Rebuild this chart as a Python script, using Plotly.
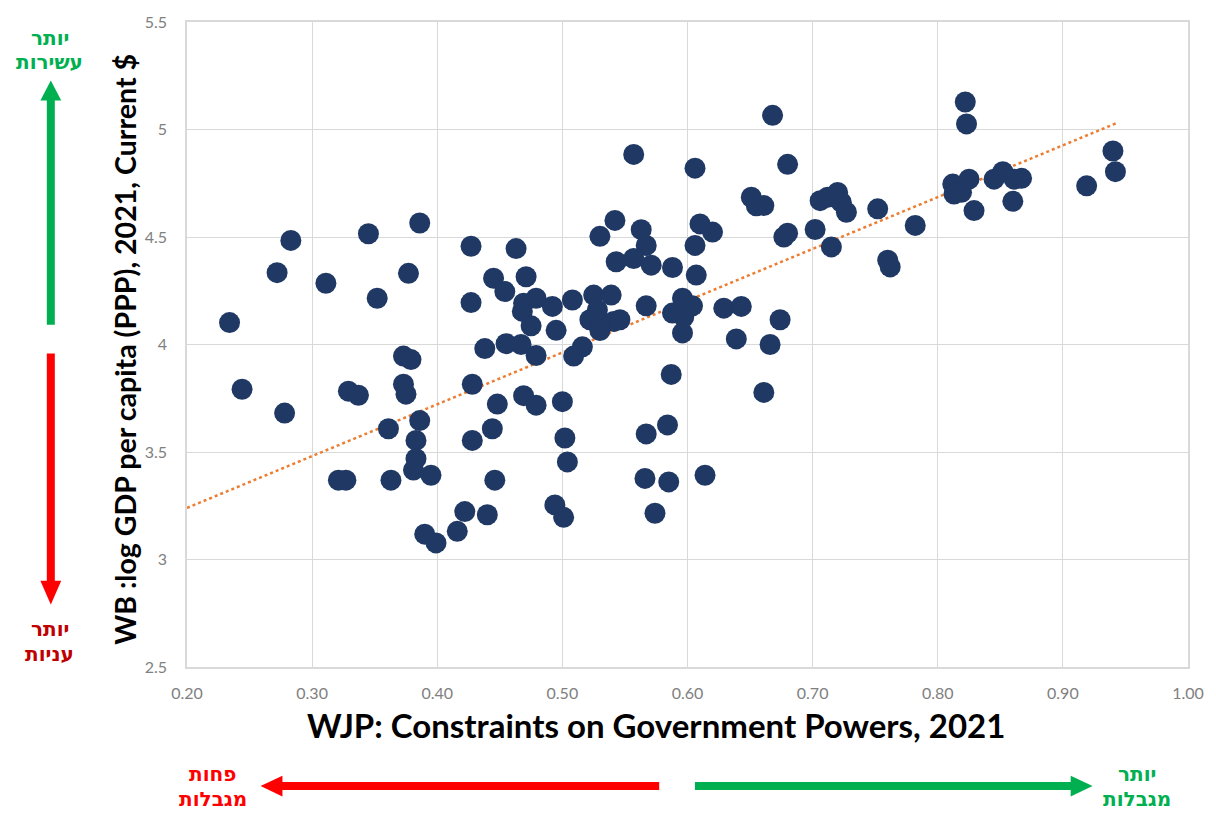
import plotly.graph_objects as go

# WJP: Constraints on Government Powers, 2021 (x) vs WB log GDP per capita PPP (y)
wjp_constraints = [
    0.283, 0.272, 0.234, 0.311, 0.345, 0.386, 0.377, 0.352, 0.427, 0.463,
    0.427, 0.244, 0.278, 0.329, 0.337, 0.373, 0.379, 0.373, 0.375, 0.428,
    0.448, 0.438, 0.455, 0.469, 0.386, 0.361, 0.383, 0.383, 0.381, 0.395,
    0.444, 0.428, 0.446, 0.321, 0.327, 0.363, 0.422, 0.440, 0.416, 0.390,
    0.399,
    0.445, 0.454, 0.471, 0.469, 0.479, 0.468, 0.475, 0.492, 0.495, 0.508,
    0.525, 0.539, 0.522, 0.530, 0.541, 0.546, 0.528, 0.530, 0.467, 0.479,
    0.509, 0.516, 0.479, 0.500, 0.502, 0.504, 0.494, 0.501, 0.566, 0.585,
    0.614, 0.574, 0.567, 0.584, 0.587, 0.557, 0.606, 0.542, 0.530, 0.563,
    0.567, 0.543, 0.557, 0.571, 0.588, 0.610, 0.620, 0.606, 0.607, 0.567,
    0.596, 0.604, 0.588, 0.596, 0.597, 0.629, 0.639, 0.643,
    0.668, 0.822, 0.823, 0.680, 0.651, 0.655, 0.661, 0.706, 0.712, 0.720,
    0.723, 0.727, 0.752, 0.782, 0.702, 0.715, 0.760, 0.762, 0.677, 0.680,
    0.674, 0.666, 0.661, 0.812, 0.825, 0.819, 0.813, 0.829, 0.845, 0.852,
    0.861, 0.867, 0.860, 0.940, 0.942, 0.919,
]
log_gdp_ppp = [
    4.484, 4.334, 4.102, 4.285, 4.515, 4.565, 4.331, 4.215, 4.457, 4.446,
    4.195, 3.792, 3.681, 3.783, 3.764, 3.946, 3.930, 3.815, 3.769, 3.815,
    3.723, 3.981, 4.004, 3.762, 3.646, 3.608, 3.554, 3.469, 3.416, 3.392,
    3.608, 3.554, 3.369, 3.369, 3.369, 3.369, 3.223, 3.208, 3.131, 3.118,
    3.077,
    4.308, 4.246, 4.315, 4.192, 4.215, 4.154, 4.087, 4.177, 4.066, 4.207,
    4.230, 4.230, 4.115, 4.107, 4.107, 4.115, 4.161, 4.065, 4.000, 3.949,
    3.946, 3.989, 3.718, 3.734, 3.565, 3.454, 3.254, 3.196, 3.377, 3.361,
    3.392, 3.215, 3.584, 3.626, 3.861, 4.884, 4.820, 4.577, 4.503, 4.534,
    4.461, 4.385, 4.400, 4.369, 4.358, 4.561, 4.523, 4.461, 4.323, 4.180,
    4.215, 4.180, 4.146, 4.054, 4.128, 4.169, 4.026, 4.177,
    5.066, 5.128, 5.026, 4.838, 4.685, 4.645, 4.646, 4.669, 4.685, 4.707,
    4.661, 4.615, 4.631, 4.554, 4.535, 4.454, 4.392, 4.361, 4.500, 4.518,
    4.115, 4.000, 3.777, 4.746, 4.769, 4.708, 4.700, 4.623, 4.769, 4.804,
    4.769, 4.773, 4.666, 4.900, 4.804, 4.738,
]
# linear trendline as shown in the chart
trend_x = [0.20, 0.943]
trend_y = [3.24, 5.03]

x_ticks = [0.2, 0.3, 0.4, 0.5, 0.6, 0.7, 0.8, 0.9, 1.0]
x_tick_labels = ["0.20", "0.30", "0.40", "0.50", "0.60", "0.70", "0.80", "0.90", "1.00"]
y_ticks = [2.5, 3.0, 3.5, 4.0, 4.5, 5.0, 5.5]
y_tick_labels = ["2.5", "3", "3.5", "4", "4.5", "5", "5.5"]

x_title = "WJP: Constraints on Government Powers, 2021"
y_title = "WB :log GDP per capita (PPP), 2021, Current $"

W, H = 1216, 814
ML, MR, MT, MB = 187, 22, 17, 147
PW, PH = W - ML - MR, H - MT - MB


def px(xp):
    return (xp - ML) / PW


def py(yp):
    return (H - MB - yp) / PH


fig = go.Figure()
fig.add_trace(go.Scatter(
    x=trend_x, y=trend_y, mode="lines",
    line=dict(color="#ED7D31", width=2.5, dash="dot"),
    hoverinfo="skip", showlegend=False,
))
fig.add_trace(go.Scatter(
    x=wjp_constraints, y=log_gdp_ppp, mode="markers",
    marker=dict(color="#1F3864", size=21, line=dict(width=0)),
    showlegend=False,
))

GREEN = "#00B050"
RED = "#FF0000"
DARKRED = "#C00000"

shapes = []


def vline_arrow(x, y0, y1, tip, base, color):
    shapes.append(dict(type="line", xref="paper", yref="paper",
                       x0=px(x), x1=px(x), y0=py(y0), y1=py(y1),
                       line=dict(color=color, width=8)))
    path = "M {} {} L {} {} L {} {} Z".format(
        px(x - 10.5), py(base), px(x + 10.5), py(base), px(x), py(tip))
    shapes.append(dict(type="path", xref="paper", yref="paper", path=path,
                       fillcolor=color, line=dict(color=color, width=0)))


def hline_arrow(y, x0, x1, tip, base, color):
    shapes.append(dict(type="line", xref="paper", yref="paper",
                       x0=px(x0), x1=px(x1), y0=py(y), y1=py(y),
                       line=dict(color=color, width=8)))
    path = "M {} {} L {} {} L {} {} Z".format(
        px(base), py(y - 10.5), px(base), py(y + 10.5), px(tip), py(y))
    shapes.append(dict(type="path", xref="paper", yref="paper", path=path,
                       fillcolor=color, line=dict(color=color, width=0)))


vline_arrow(50, 322, 94, 76, 96, GREEN)
vline_arrow(50, 351, 582, 604, 580, RED)
hline_arrow(787, 662, 281, 261, 283, RED)
hline_arrow(787, 698, 1078, 1098, 1076, GREEN)

heb_font = dict(family="DejaVu Sans", size=20)
annotations = []


def label(text, x, y, color):
    annotations.append(dict(text="<b>" + text + "</b>", xref="paper", yref="paper",
                            x=px(x), y=py(y), showarrow=False,
                            xanchor="center", yanchor="middle",
                            font=dict(color=color, **heb_font)))


label("יותר", 49, 33, GREEN)
label("עשירות", 49, 57, GREEN)
label("יותר", 49, 629, DARKRED)
label("עניות", 49, 654, DARKRED)
label("פחות", 213, 775, RED)
label("מגבלות", 213, 800, RED)
label("יותר", 1143, 775, GREEN)
label("מגבלות", 1143, 800, GREEN)

annotations.append(dict(text="<b>" + x_title + "</b>", xref="paper", yref="paper",
                        x=px(659), y=py(725), showarrow=False,
                        xanchor="center", yanchor="middle",
                        font=dict(family="Lato, Open Sans", size=33, color="black")))
annotations.append(dict(text="<b>" + y_title + "</b>", xref="paper", yref="paper",
                        x=px(125), y=py(347), showarrow=False, textangle=-90,
                        xanchor="center", yanchor="middle",
                        font=dict(family="Lato, Open Sans", size=28.6, color="black")))

tick_font = dict(family="Lato, Open Sans", size=16, color="#808080")
grid = "#D9D9D9"
fig.update_layout(
    width=W, height=H,
    margin=dict(l=ML, r=MR, t=MT, b=MB),
    paper_bgcolor="white", plot_bgcolor="white",
    shapes=shapes, annotations=annotations,
    showlegend=False,
    xaxis=dict(range=[0.2, 1.0], tickvals=x_ticks, ticktext=x_tick_labels,
               showgrid=True, gridcolor=grid, gridwidth=1, zeroline=False,
               showline=True, linecolor=grid, linewidth=1.5, mirror=True,
               ticks="", tickfont=tick_font, ticklabelstandoff=11),
    yaxis=dict(range=[2.5, 5.5], tickvals=y_ticks, ticktext=y_tick_labels,
               showgrid=True, gridcolor=grid, gridwidth=1, zeroline=False,
               showline=True, linecolor=grid, linewidth=1.5, mirror=True,
               ticks="", tickfont=tick_font, ticklabelstandoff=15),
)

fig.write_html(
    "out.html",
    config={"displayModeBar": False},
    post_script="document.body.style.margin='0px';document.body.style.overflow='hidden';",
)
